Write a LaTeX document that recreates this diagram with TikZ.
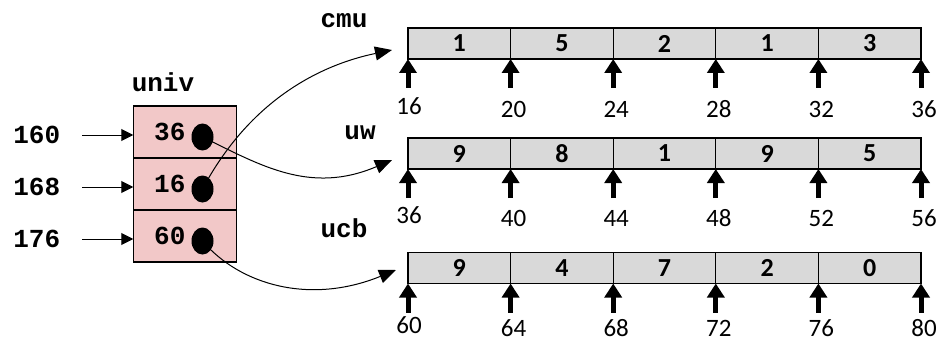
\documentclass[tikz,border=0pt]{standalone}
\usepackage{fontspec}
\usepackage{tikz}
\usetikzlibrary{arrows.meta, positioning, shapes.geometric}
\newfontfamily\calfont{Carlito}
\newfontfamily\courfont{Liberation Mono}
\definecolor{slotpink}{RGB}{242,200,200}
\definecolor{elemgray}{RGB}{217,217,217}
\tikzstyle{slot} = [rectangle, draw=black, line width=1.2pt, fill=slotpink, minimum width=103pt, minimum height=52pt, inner sep=0pt, outer sep=0pt]
\tikzstyle{elem} = [rectangle, draw=black, line width=1.2pt, fill=elemgray, minimum width=102.6pt, minimum height=31pt, inner sep=0pt, outer sep=0pt, font=\calfont\bfseries\fontsize{26}{26}\selectfont]
\tikzstyle{mono} = [inner sep=0pt, font=\courfont\bfseries\fontsize{26}{26}\selectfont]
\tikzstyle{addr} = [inner sep=0pt, font=\calfont\fontsize{25}{25}\selectfont]
\tikzstyle{dot} = [ellipse, fill=black, minimum width=22pt, minimum height=27pt, inner sep=0pt]
\tikzstyle{ptr} = [line width=1pt, -{Triangle[length=17pt,width=14pt]}]
\tikzstyle{addrarrow} = [line width=1pt, -{Triangle[length=12pt,width=12pt]}]
\tikzstyle{uparrow} = [line width=5pt, -{Triangle[length=14pt,width=17pt]}]

\begin{document}
\begin{tikzpicture}[x=1pt, y=-1pt]
    \useasboundingbox (0,0) rectangle (939,342);
    % pointer array
    \node (univ) [mono] at (163,82) {univ};
    \node (s0) [slot] at (184.75,132) {};
    \node (s1) [slot, below=0pt of s0] {};
    \node (s2) [slot, below=0pt of s1] {};
    \foreach \k/\val/\ad in {0/36/160, 1/16/168, 2/60/176} {
        \node (v\k) [mono] at ([xshift=-15pt]s\k.center) {\val};
        \node (d\k) [dot] at ([xshift=17.75pt,yshift=-5pt]s\k.center) {};
        \node (a\k) [mono] at ([xshift=-148pt,yshift=-3pt]s\k.center) {\ad};
        \draw [addrarrow] ([xshift=22pt]a\k.east) -- (a\k.east -| s\k.west);
    }
    % int arrays
    \node (cmu) [mono] at (344,21) {cmu};
    \node (uw) [mono] at (360,133) {uw};
    \node (ucb) [mono] at (344,228) {ucb};
    \foreach \nm/\yt/\lo/\base/\digits in {cmu/28/81/16/{1,5,2,1,3}, uw/138/80/36/{9,8,1,9,5}, ucb/252.5/76/60/{9,4,7,2,0}} {
        \foreach \d [count=\i from 0] in \digits {
            \node (\nm\i) [elem] at ({408+102.6*\i+51.3},{\yt+15.5}) {\d};
        }
        \foreach \i in {0,...,5} {
            \pgfmathtruncatemacro\addrval{\base+4*\i}
            \coordinate (\nm t\i) at ({408+102.6*\i},{\yt+31});
            \coordinate (\nm b\i) at ({408+102.6*\i},{\yt+60});
            \draw [uparrow] (\nm b\i) -- (\nm t\i);
            \ifnum\i=0
                \node (\nm l\i) [addr] at ({408+102.6*\i+1},{\yt+\lo-3}) {\addrval};
            \else
                \node (\nm l\i) [addr] at ({408+102.6*\i+3},{\yt+\lo}) {\addrval};
            \fi
        }
    }
    % pointers
    \coordinate (cmuin) at (392,50);
    \coordinate (uwin) at (392,160);
    \coordinate (ucbin) at (396,270);
    \draw [ptr] (d1.center) .. controls (250,100) and (320,65) .. (cmuin);
    \draw [ptr] (d0.center) .. controls (260,165) and (310,195) .. (uwin);
    \draw [ptr] (d2.center) .. controls (240,285) and (310,305) .. (ucbin);
\end{tikzpicture}
\end{document}
